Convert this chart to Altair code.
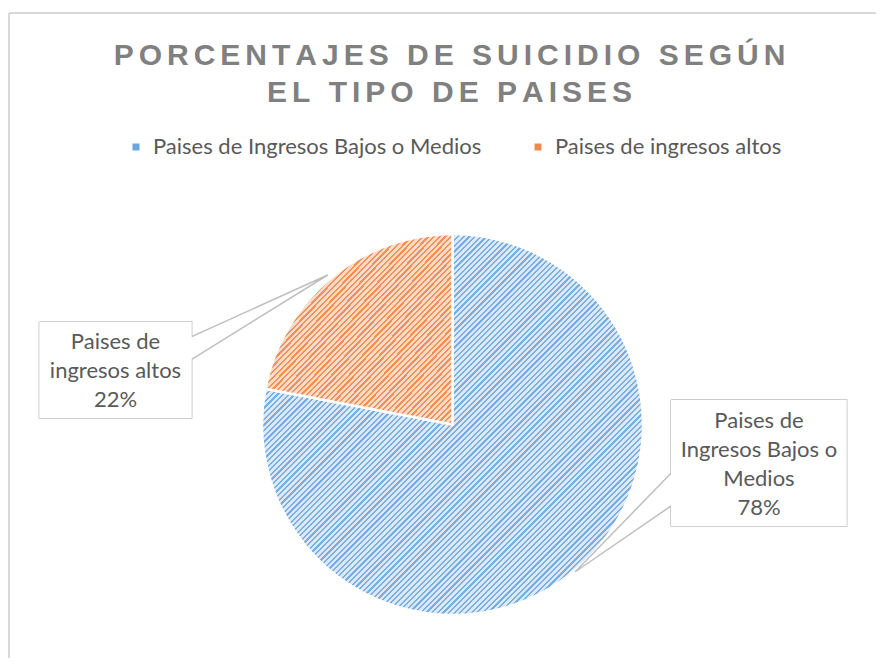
import textwrap
import altair as alt
import pandas as pd

# ---------------- data ----------------
categories = ["Paises de Ingresos Bajos o Medios", "Paises de ingresos altos"]
percentages = [78, 22]
title_lines = ["PORCENTAJES DE SUICIDIO SEGÚN", "EL TIPO DE PAISES"]

# ---------------- layout / style ----------------
W, H = 867, 645
CX, CY, R = 443.5, 411.5, 190.5
BLUE, ORANGE = "#6fa8dc", "#f08a4b"
TEXT = "#595959"
BOX_LINE = "#bfbfbf"

# callout boxes: x1, x2, y1, y2, notch side, notch y a, notch y b, tip x, tip y, text x, first baseline
callout_layout = [
    (662.0, 837.7, 387.0, 513.0, "left", 460.3, 493.0, 566.0, 559.0, 750.0, 415.0),
    (30.3, 182.7, 308.7, 405.0, "right", 323.7, 346.3, 318.7, 262.0, 106.5, 336.0),
]

LS = "\u2006"  # letter spacing for the title


def spaced(s):
    return LS.join(list(s))


def stripes(dark, light, periods, frac=0.4):
    stops = []
    for i in range(periods):
        a = round(i / periods, 5)
        b = round((i + frac) / periods, 5)
        c = round((i + 1) / periods, 5)
        stops += [
            {"offset": a, "color": dark},
            {"offset": b, "color": dark},
            {"offset": b, "color": light},
            {"offset": c, "color": light},
        ]
    return {"gradient": "linear", "x1": 0, "y1": 0, "x2": 1, "y2": 1, "stops": stops}


grad_blue = stripes("#78aee0", "#dbe8f7", 135)
grad_orange = stripes("#f29058", "#fbdac6", 66)

# ---------------- tables ----------------
pie_df = pd.DataFrame({
    "category": categories,
    "value": percentages,
    "idx": list(range(len(categories))),
})

label_rows, box_rows, poly_rows = [], [], []
for cat, pct, lay in zip(categories, percentages, callout_layout):
    x1, x2, y1, y2, side, na, nb, tx, ty, lx, ly = lay
    label_rows.append({"category": cat, "x": lx, "y": ly,
                       "label": "\n".join(textwrap.wrap(cat, 16)) + f"\n{pct}%"})
    box_rows.append({"category": cat, "x1": x1, "x2": x2, "y1": y1, "y2": y2})
    if side == "right":
        pts = [(x1, y1), (x2, y1), (x2, na), (tx, ty), (x2, nb), (x2, y2), (x1, y2), (x1, y1)]
    else:
        pts = [(x1, y1), (x2, y1), (x2, y2), (x1, y2), (x1, nb), (tx, ty), (x1, na), (x1, y1)]
    for k, (px, py) in enumerate(pts):
        poly_rows.append({"category": cat, "k": k, "px": px, "py": py})

label_df = pd.DataFrame(label_rows)
box_df = pd.DataFrame(box_rows)
poly_df = pd.DataFrame(poly_rows)

xs = alt.Scale(domain=[0, W], range=[0, W], nice=False, zero=False)
ys = alt.Scale(domain=[0, H], range=[0, H], nice=False, zero=False)

# ---------------- layers ----------------
frame = alt.Chart(pd.DataFrame({"a": [0]})).mark_rule(color="#d9d9d9", strokeWidth=2)
frame_left = frame.encode(x=alt.value(0), y=alt.value(0), y2=alt.value(H))
frame_top = frame.encode(x=alt.value(0), x2=alt.value(W), y=alt.value(0))

base = alt.Chart(pie_df).encode(
    theta=alt.Theta("value:Q", stack=True),
    order=alt.Order("idx:O"),
    x=alt.value(CX),
    y=alt.value(CY),
)

pie_solid = base.mark_arc(radius=R, stroke="white", strokeWidth=2.5).encode(
    color=alt.Color(
        "category:N",
        scale=alt.Scale(domain=categories, range=[BLUE, ORANGE]),
        legend=alt.Legend(
            title=None, orient="none", legendX=116, legendY=123,
            direction="horizontal", symbolType="square", symbolSize=49,
            symbolStrokeWidth=0, symbolOpacity=1,
            labelFont="Lato", labelFontSize=22, labelColor=TEXT,
            labelOffset=6, columnPadding=45, padding=0, labelLimit=0,
        ),
    )
)

pie_hatch = base.mark_arc(radius=R, stroke="white", strokeWidth=2.5).encode(
    fill=alt.condition(alt.datum.category == categories[0],
                       alt.value(grad_blue), alt.value(grad_orange))
)

boxes = alt.Chart(box_df).mark_rect(fill="white", stroke=None).encode(
    x=alt.X("x1:Q", scale=xs, axis=None),
    x2="x2:Q",
    y=alt.Y("y1:Q", scale=ys, axis=None),
    y2="y2:Q",
)

outlines = alt.Chart(poly_df).mark_line(color=BOX_LINE, strokeWidth=1.5, strokeJoin="miter").encode(
    x=alt.X("px:Q", scale=xs, axis=None),
    y=alt.Y("py:Q", scale=ys, axis=None),
    order="k:Q",
    detail="category:N",
)

labels = alt.Chart(label_df).mark_text(
    lineBreak="\n", align="center", baseline="alphabetic",
    font="Lato", fontSize=22, color=TEXT, lineHeight=29,
).encode(
    x=alt.X("x:Q", scale=xs, axis=None),
    y=alt.Y("y:Q", scale=ys, axis=None),
    text="label:N",
)

chart = alt.layer(
    frame_left, frame_top, pie_solid, pie_hatch, outlines, boxes, labels
).properties(
    width=W,
    height=H,
    padding={"left": 1, "top": 5, "right": 0, "bottom": 0},
    autosize=alt.AutoSizeParams(type="none"),
    title=alt.TitleParams(
        text=[spaced(t) for t in title_lines],
        font="Liberation Sans", fontSize=30, fontWeight="bold", color="#808080",
        anchor="middle", frame="group", baseline="alphabetic", lineHeight=37,
        offset=0, dx=7, dy=120,
    ),
).configure_view(stroke=None).configure(background="white")

chart.save("out.html", embed_options={"renderer": "svg", "actions": False})
